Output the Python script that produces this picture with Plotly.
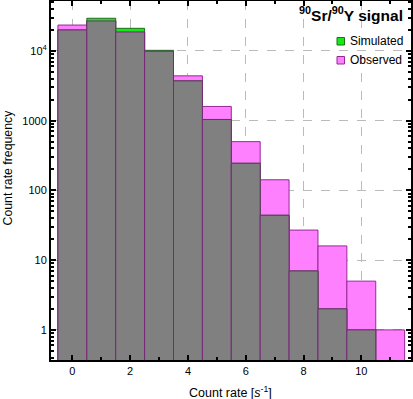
import numpy as np
import plotly.graph_objects as go

# Count-rate histogram, 90Sr/90Y signal
rate = [0, 1, 2, 3, 4, 5, 6, 7, 8, 9, 10, 11]
simulated = [20000, 29400, 21100, 10200, 3720, 1040, 245, 44, 7, 2, 1, 0]
observed = [23500, 26900, 18700, 9900, 4390, 1600, 500, 142, 27, 16, 5, 1]
series_names = ["Simulated", "Observed"]
series_colors = ["rgb(20,235,20)", "rgb(255,128,255)"]
series_edges = ["rgb(30,110,30)", "rgb(150,40,150)"]

overlap = np.minimum(simulated, observed)

font = "Liberation Sans, Arial, sans-serif"

fig = go.Figure()
fig.add_trace(go.Bar(
    x=rate, y=observed, width=1, name=series_names[1], showlegend=False,
    marker=dict(color=series_colors[1], line=dict(color=series_edges[1], width=1)),
))
fig.add_trace(go.Bar(
    x=rate, y=simulated, width=1, name=series_names[0], showlegend=False,
    marker=dict(color=series_colors[0], line=dict(color=series_edges[0], width=1)),
))
fig.add_trace(go.Bar(
    x=rate, y=overlap, width=1, showlegend=False, hoverinfo="skip",
    marker=dict(color="rgb(128,128,128)", line=dict(color="rgb(120,40,120)", width=1)),
))

# hand-made legend and titles, in paper coordinates
W, H, L, T = 360, 359, 51, 1
def px(x):
    return (x - L) / W
def py(y):
    return 1 - (y - T) / H

shapes, annotations = [], []
for i, (name, col, edge) in enumerate(zip(series_names, series_colors, series_edges)):
    cy = 41.5 + i * 19
    shapes.append(dict(
        type="rect", xref="paper", yref="paper",
        x0=px(337), x1=px(344.5), y0=py(cy - 4), y1=py(cy + 3.5),
        fillcolor=col, line=dict(color=edge, width=1),
    ))
    annotations.append(dict(
        text=name, xref="paper", yref="paper", x=px(347.5), y=py(cy),
        xanchor="left", yanchor="middle", showarrow=False, font=dict(size=12),
    ))
annotations += [
    dict(text="<b><sup>90</sup>Sr/<sup>90</sup>Y signal</b>",
         xref="paper", yref="paper", x=px(405), y=0.998,
         xanchor="right", yanchor="top", showarrow=False, font=dict(size=15.5)),
    dict(text="Count rate [<i>s</i><sup>-1</sup>]",
         xref="paper", yref="paper", x=px(230.5), y=py(392),
         xanchor="center", yanchor="middle", showarrow=False, font=dict(size=12.5)),
    dict(text="Count rate frequency", textangle=-90,
         xref="paper", yref="paper", x=px(7.5), y=py(168),
         xanchor="center", yanchor="middle", showarrow=False, font=dict(size=12.3)),
]

minor_vals = [m * 10 ** d for d in range(-1, 5) for m in range(2, 10)]

fig.update_layout(
    width=413, height=399,
    margin=dict(l=51, r=2, t=1, b=39),
    plot_bgcolor="white", paper_bgcolor="white",
    barmode="overlay", showlegend=False,
    font=dict(family=font, size=11, color="black"),
    shapes=shapes, annotations=annotations,
)

fig.update_xaxes(
    range=[-0.74, 11.72],
    tickvals=[0, 2, 4, 6, 8, 10],
    ticks="inside", ticklen=5, tickwidth=1.5, tickcolor="black",
    minor=dict(tickvals=[1, 3, 5, 7, 9, 11], ticks="inside", ticklen=3, tickcolor="black"),
    showline=True, linecolor="black", linewidth=2, mirror="allticks",
    showgrid=True, gridcolor="#bbbbbb", griddash="dash", gridwidth=1,
    zeroline=False, automargin=False,
)
fig.update_yaxes(
    type="log",
    range=[np.log10(0.37), 4.716],
    tickvals=[1, 10, 100, 1000, 10000],
    ticktext=["1", "10", "100", "1000", "10<sup>4</sup>"],
    ticks="inside", ticklen=5, tickwidth=1.5, tickcolor="black",
    minor=dict(tickvals=minor_vals, ticks="inside", ticklen=3, tickcolor="black"),
    showline=True, linecolor="black", linewidth=2, mirror="allticks",
    showgrid=True, gridcolor="#bbbbbb", griddash="dash", gridwidth=1,
    zeroline=False, automargin=False,
)

fig.write_html("out.html", config={"displayModeBar": False},
               post_script="document.body.style.margin = '0';")
